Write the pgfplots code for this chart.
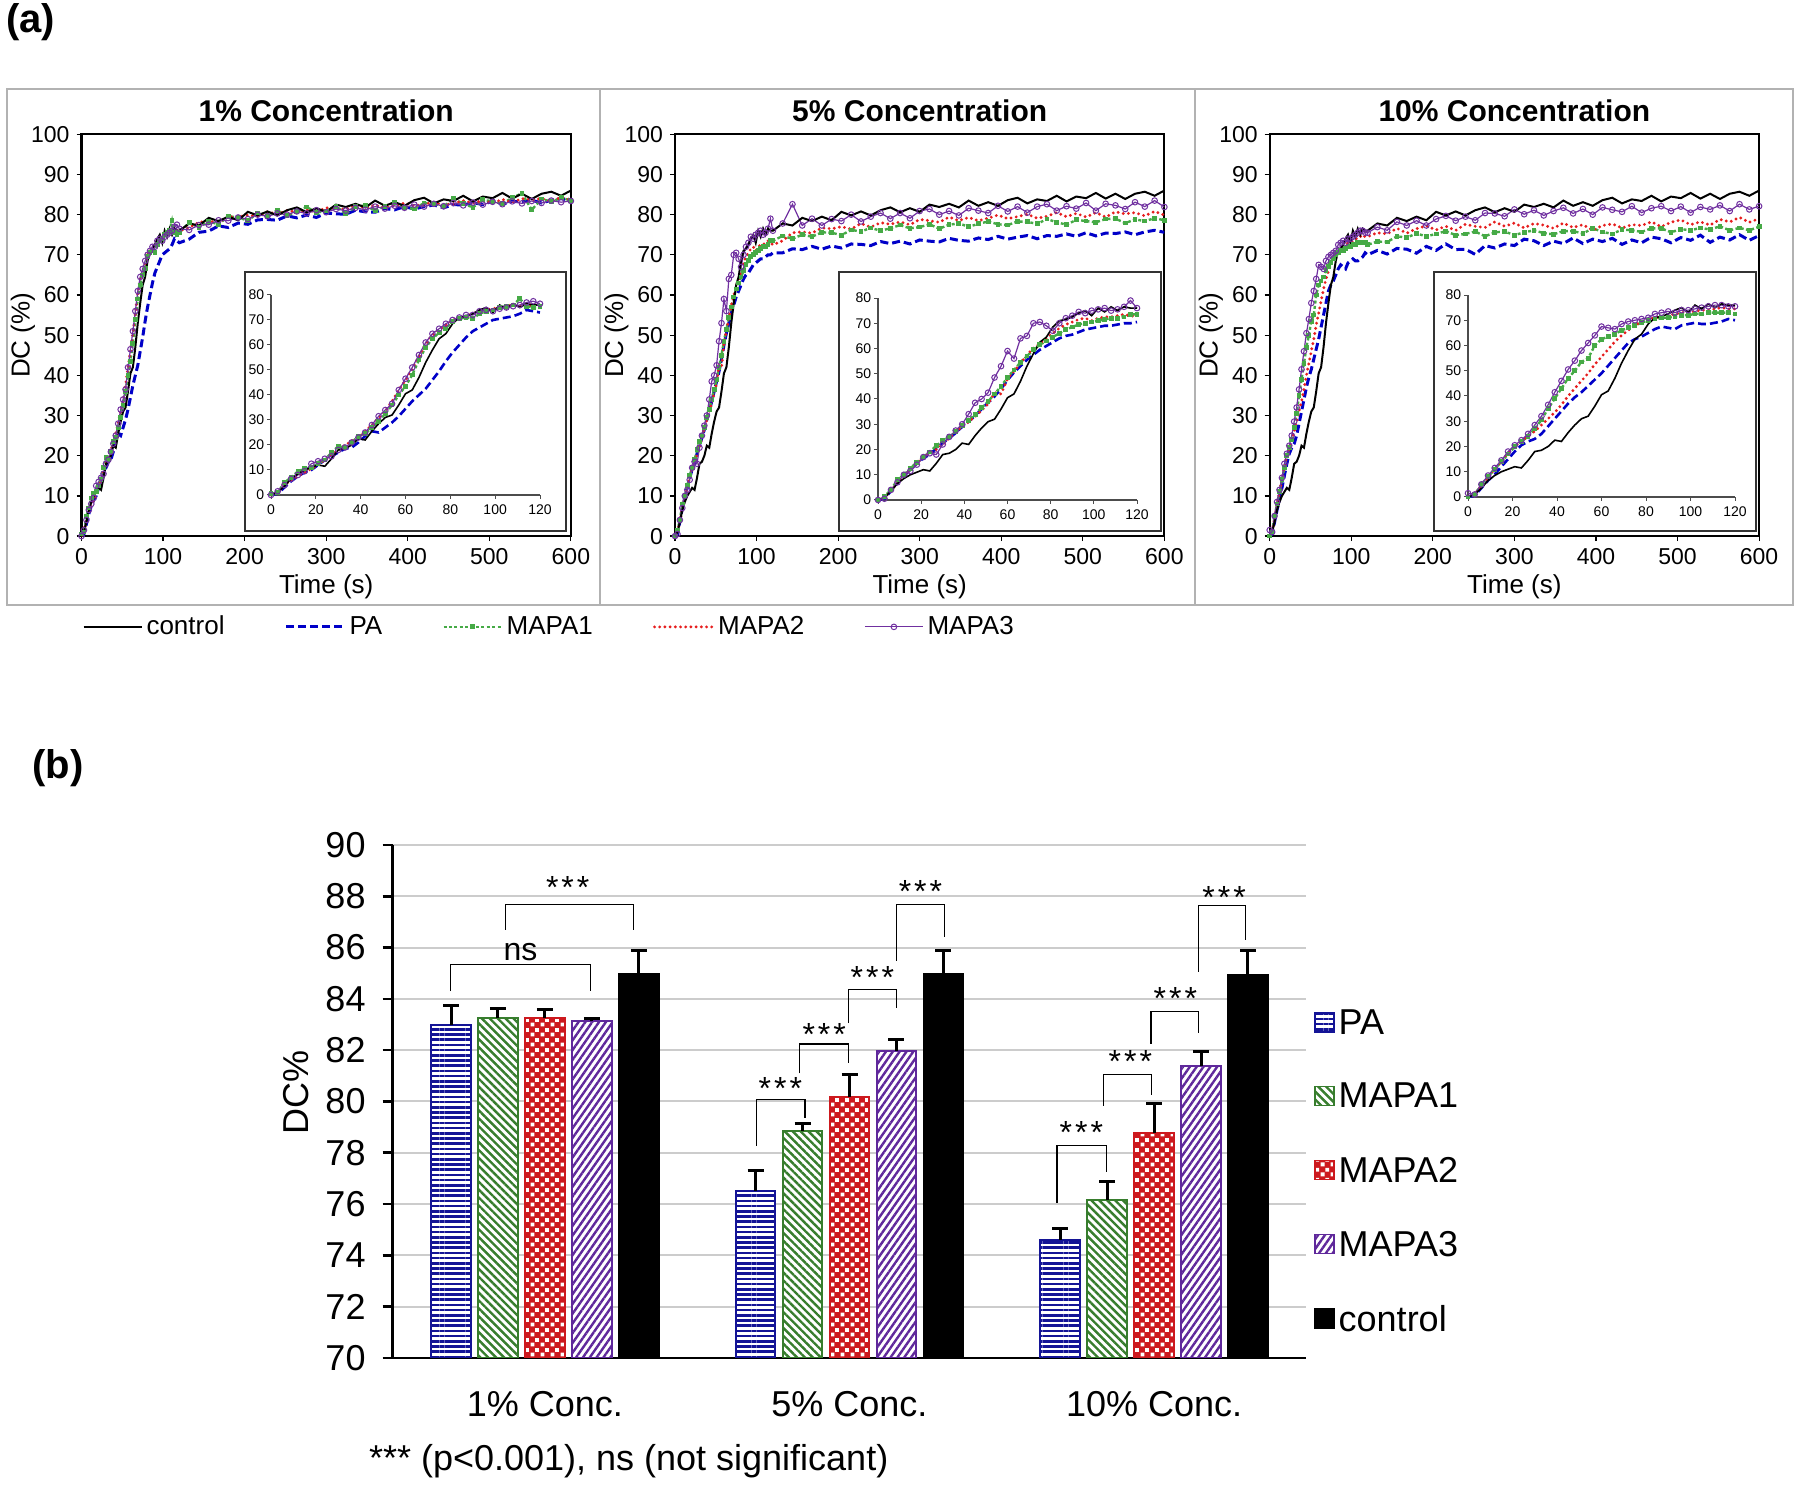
\documentclass[border=0pt]{standalone}
\usepackage{fontspec}
\setmainfont{Liberation Sans}
\usepackage{pgfplots}
\usepackage{pgfplotstable}
\pgfplotsset{compat=1.18}
\usetikzlibrary{patterns,patterns.meta}

\definecolor{cPA}{RGB}{0,0,200}
\definecolor{cM1}{RGB}{70,170,70}
\definecolor{cM2}{RGB}{230,30,30}
\definecolor{cM3}{RGB}{112,48,160}
\definecolor{bPA}{RGB}{20,20,150}
\definecolor{bM1}{RGB}{55,125,45}
\definecolor{bM2}{RGB}{205,25,30}
\definecolor{bM3}{RGB}{95,40,155}

\pgfdeclarepatternformonly{wsq}{\pgfqpoint{0pt}{0pt}}{\pgfqpoint{5pt}{5pt}}{\pgfqpoint{5pt}{5pt}}{%
  \pgfpathrectangle{\pgfqpoint{0.3pt}{0.3pt}}{\pgfqpoint{2.1pt}{2.1pt}}%
  \pgfpathrectangle{\pgfqpoint{2.8pt}{2.8pt}}{\pgfqpoint{2.1pt}{2.1pt}}%
  \pgfusepath{fill}}

\pgfplotstableread{
t c p1 a1 b1 d1 p5 a5 b5 d5 p10 a10 b10 d10
0 0 0 0.5 0 0 0 0 0 0 0 0 0 1.5
3 1 0.5 1 1 1.5 0.5 1.5 1 0.5 0.5 1 1 1
6 3.5 3 5 4 4 3.5 4 3.5 4 3.5 5 4.5 5
9 6.5 5.5 7 6 6.5 7 8 7 7 6.5 8 8 8.5
12 8.5 7.5 9.5 7.5 8 9.5 10 9.5 10 9 11 11 11.5
15 10 9 10.5 9 9.5 12 12.5 12 11.5 12 14 14 14.5
18 11 10 11 10.5 12.5 14.5 15 14.5 14 15 17 17.5 18
21 12 12 12.5 12 13.5 16.5 17 17 17 18 20 20 20.5
24 11.5 14 14 14 14.5 18 19 18.5 18.5 20.5 22 22 22.5
27 14.5 15.5 17 16 15.5 20.5 21.5 20 18 22 24 24 25
30 18 17 19.5 18 18 22.5 23.5 22 22 23 27 26 28.5
33 18.5 18.5 19 20 19 24.5 25 24.5 25 25 30.5 28.5 32
36 20 19 21 21.5 21 26.5 27 27 27.5 28 35 31 36.5
39 22.5 21 23.5 23 23 29 29.5 29 30 31 39 33.5 41.5
42 22 23.5 24.5 25.5 25 31 31.5 31 34 34 43 36.5 46
45 25.5 25.5 27 28 28 33.5 34 33 38.5 37 47 40 50.5
48 28.5 25 29.5 31 31.5 36 36.5 35.5 40 39.5 50 43 54
51 31 27 32.5 33.5 34 38.5 39 38 42.5 41.5 53.5 46 58
54 32 29 36 37.5 36.5 41 42 42.5 48.5 44 55 49 61
57 36 31.5 40 42 42 44 45 42 53 46.5 60 52.5 64
60 40.5 34.5 43.5 46 46.5 47.5 48.5 48 59 49 62.5 55.5 67.5
63 42 37.5 48 50.5 51 50.5 51.5 51 56 52 63.5 58.5 67
66 47 40 54 55.5 56 53 54.5 54 64 55 64.5 61.5 66.5
69 53 42.5 59 60.5 61 55.5 57 57.5 65 58 66 64 68.5
72 58 46 62.5 64 64.5 57.5 59.5 60 70 61 67 66 69.5
75 62.5 49.5 65 66 66.5 59.5 61.5 62 70.5 62.5 68 68 70
78 64.5 53.5 66.5 68 68.5 61 63 64 69 63.5 69 69.5 70.5
81 68.5 57 69.5 70 70 62.5 64.5 66 67 65 70 70.5 71
84 71 60 70.5 71 71 64 66 68 70 66.5 70.5 71 72.5
87 71.5 63 71 71.5 72 65 67.5 69.5 72 67.5 71 71.5 73
90 72.5 65.5 70.5 72.5 72 65.5 68.5 70.5 73 67 71 72 73.5
93 74 67 72.5 73.5 73.5 66.5 69.5 71.5 74.5 66.5 71.5 72.5 73
96 75 68.5 73.5 74 74 67.5 70 72 74 68 72 73 74
99 73 70 74 74.5 73.5 68 70.5 71 75 68.5 72 73 74
102 76 70.5 75 75 74.5 68.5 71 72 75.5 69 72.5 73.5 74.5
105 74.5 71 75.5 75.5 75 69 71.5 72.5 76 68.5 72.5 74 75
108 76.5 71.5 76 76 75.5 69 72 72.5 75 68.5 73 74 75.5
111 75 72.5 78.5 75.5 76 69.5 72 73 75.5 69 73 74.5 76
114 76.5 74 75.5 76 77 70 72.5 73.5 76.5 69.5 73 75 76
117 76 73.5 75 76 77.5 70 73.5 73 79 70.5 73 74.5 75.5
120 76 73 75.5 76 76.5 70.5 73.5 72.5 76 70 72.5 74.5 75.5
}\insetdata

\pgfplotstableread{
t c p1 a1 b1 d1 p5 a5 b5 d5 p10 a10 b10 d10
132 77.8 73.9 78.0 76.8 76.2 70.5 74.7 73.5 77.8 71.1 73.3 75.5 76.9
144 77.3 75.6 76.9 78.1 77.4 71.5 74.0 75.5 82.6 70.2 73.2 75.2 76.1
156 79.2 75.9 78.3 78.3 77.5 71.3 75.0 75.7 77.3 71.6 74.6 76.6 78.2
168 78.4 77.2 77.6 78.2 78.6 72.1 74.5 75.4 79.0 71.4 74.3 75.4 77.3
180 79.5 76.8 79.6 79.4 78.5 71.4 75.6 76.7 77.3 70.4 75.3 76.5 78.5
192 78.6 77.9 79.3 79.4 79.3 72.2 75.5 76.5 78.9 72.1 74.6 77.2 77.3
204 80.7 77.6 78.5 79.9 78.9 71.7 74.9 77.0 78.4 71.1 75.2 76.2 78.9
216 79.8 78.7 80.4 79.6 80.0 72.7 76.2 76.4 80.0 72.7 75.9 77.1 79.7
228 80.8 78.8 79.7 80.7 79.6 72.6 75.8 77.8 78.3 71.3 74.9 76.1 78.5
240 79.8 78.6 81.1 80.1 80.3 72.3 76.7 76.9 79.5 71.4 75.2 77.6 79.5
252 81.1 79.7 79.7 81.0 80.0 73.3 76.0 78.0 80.4 70.1 75.8 77.1 78.6
264 81.8 79.2 80.8 80.7 80.8 72.8 76.6 77.6 79.0 72.3 74.6 76.8 80.4
276 80.6 79.9 81.9 81.2 80.3 73.4 77.4 78.2 80.4 71.7 75.6 78.2 80.3
288 81.6 79.3 80.5 80.7 81.1 72.7 76.6 77.5 79.1 72.7 75.8 77.1 79.6
300 80.7 80.4 80.9 81.7 80.6 73.7 76.9 78.8 80.9 72.3 74.9 77.9 81.3
312 82.5 80.2 82.1 81.6 81.4 73.4 77.6 78.5 81.4 73.9 75.6 76.7 80.1
324 81.9 80.1 80.2 81.3 81.0 73.2 76.5 78.1 80.0 73.5 76.1 77.8 81.1
336 82.7 81.1 82.0 82.3 81.7 74.1 77.5 79.4 80.9 72.3 75.4 77.4 79.8
348 81.8 80.7 82.3 81.7 81.2 73.6 77.8 78.5 79.8 73.4 75.1 76.6 80.9
360 83.5 80.6 81.0 82.3 82.0 73.4 77.0 79.3 81.6 72.8 75.9 77.9 81.7
372 82.2 81.5 82.1 81.8 81.5 74.2 77.7 78.5 81.0 74.2 75.9 76.8 80.3
384 83.1 81.2 83.1 82.2 82.2 73.8 78.3 79.1 80.4 72.8 75.3 77.5 81.4
396 82.2 82.0 81.8 82.9 81.7 74.6 77.6 79.9 82.2 73.9 76.6 76.1 80.0
408 83.6 81.4 81.4 82.2 82.5 73.9 77.4 79.0 80.8 73.3 75.7 77.3 81.8
420 84.2 82.0 82.9 82.6 82.0 74.4 78.3 79.5 82.0 74.1 75.2 77.7 81.2
432 82.8 82.4 82.8 83.1 82.7 74.8 78.2 80.1 80.5 72.6 76.3 76.7 80.7
444 83.8 81.7 82.0 82.3 82.1 74.0 77.7 79.1 82.0 73.7 76.1 77.5 82.1
456 83.4 82.5 84.0 82.8 82.9 74.8 78.9 79.6 82.6 73.0 75.7 77.3 80.5
468 84.7 82.4 82.7 83.5 82.3 74.6 78.1 80.5 81.0 74.4 76.6 78.2 81.6
480 83.3 83.0 81.8 82.9 83.0 75.2 77.5 79.5 82.1 74.0 76.6 77.0 82.1
492 84.5 82.5 83.7 83.5 82.5 74.6 78.7 80.3 81.5 73.0 75.6 78.1 80.9
504 84.1 83.4 83.3 82.9 83.2 75.5 78.4 79.4 82.9 74.3 76.4 78.7 82.0
516 85.4 82.6 82.7 83.8 82.6 74.7 78.1 80.5 81.0 73.6 76.1 77.5 80.5
528 84.0 83.3 84.2 83.0 83.3 75.4 78.9 79.4 82.7 74.9 76.7 78.2 81.9
540 85.2 83.2 85.3 84.0 82.8 75.3 79.0 80.7 82.3 73.1 76.3 77.4 81.3
552 83.9 83.6 81.2 83.7 83.4 75.7 77.9 80.2 81.4 74.4 77.1 78.8 82.3
564 85.2 82.9 83.9 84.0 82.9 75.0 78.8 80.5 83.1 73.7 76.1 78.2 80.9
576 85.7 83.6 83.2 83.3 83.5 75.7 78.4 79.7 82.0 75.0 76.7 79.3 82.6
588 84.7 84.0 84.2 84.3 83.1 76.1 79.1 80.8 83.5 73.6 76.1 78.1 81.3
600 86.0 83.5 83.5 83.7 83.4 75.6 78.6 79.9 81.9 74.8 77.0 79.0 82.1
}\taildata

\pgfplotstablevertcat{\fulldata}{\insetdata}
\pgfplotstablevertcat{\fulldata}{\taildata}

\pgfplotstableread{
x pa epa m1 em1 m2 em2 m3 em3 c ec
0 83.00 0.73 83.27 0.37 83.24 0.34 83.13 0.12 84.96 0.93
1 76.50 0.80 78.84 0.30 80.18 0.87 81.97 0.45 84.96 0.93
2 74.60 0.45 76.15 0.74 78.77 1.16 81.40 0.53 84.95 0.92
}\bdata

\pgfplotsset{
  sPA/.style={color=cPA, line width=1.5pt, dash pattern=on 4pt off 2pt, mark=none},
  sC/.style={color=black, line width=1pt, solid, mark=none},
  sM1/.style={color=cM1, line width=1.2pt, dash pattern=on 1.5pt off 1.2pt, mark=square*, mark size=0.6pt, mark options={solid}},
  sM2/.style={color=cM2, line width=1.6pt, dash pattern=on 0pt off 2.6pt, line cap=round, mark=none},
  sM3/.style={color=cM3, line width=0.6pt, solid, mark=o, mark size=1.4pt, mark options={solid, line width=0.5pt}},
  mainax/.style={scale only axis, anchor=south west, width=244.7pt, height=200.9pt,
    xmin=0, xmax=600, ymin=0, ymax=100, xtick={0,100,...,600}, ytick={0,10,...,100},
    axis line style={line width=1.1pt}, tick align=outside, xtick pos=bottom, ytick pos=left,
    major tick length=2.5pt, tick style={line width=0.6pt, black},
    tick label style={font=\fontsize{11.5}{13}\selectfont},
    /pgf/number format/assume math mode=true,
    xlabel={Time (s)}, ylabel={DC (\%)},
    label style={font=\fontsize{13}{15}\selectfont},
    xlabel style={at={(0.5,-0.126)}, anchor=center},
    ylabel style={at={(-0.12,0.5)}, anchor=center},
    title style={at={(0.5,1.029)}, anchor=center, font=\bfseries\fontsize{15}{17}\selectfont}},
  insetax/.style={scale only axis, anchor=south west,
    xmin=0, xmax=120, ymin=0, ymax=80, xtick={0,20,...,120}, ytick={0,10,...,80},
    axis x line*=bottom, axis y line*=left, axis line style={line width=0.6pt, black!70, -},
    tick align=outside, major tick length=2pt, tick style={black!70, line width=0.5pt},
    tick label style={font=\fontsize{7}{8}\selectfont, inner sep=1.2pt},
    xticklabel style={yshift=-1.5pt},
    /pgf/number format/assume math mode=true, clip=false},
  bst/.style={line width=1pt, error bars/y dir=plus, error bars/y explicit,
    error bars/error bar style={line width=1.5pt, black, solid},
    error bars/error mark options={rotate=90, line width=1.5pt, mark size=4pt, black}},
}

\begin{document}
\begin{tikzpicture}
\useasboundingbox (0,0) rectangle (900pt,743.5pt);
% frames
\draw[gray!60, line width=1pt] (3.5pt,441pt) rectangle (300pt,698.75pt);
\draw[gray!60, line width=1pt] (300pt,441pt) rectangle (597.5pt,698.75pt);
\draw[gray!60, line width=1pt] (597.5pt,441pt) rectangle (896.5pt,698.75pt);
\node[font=\bfseries\fontsize{20}{22}\selectfont] at (15.25pt,732.5pt) {(a)};
\node[font=\bfseries\fontsize{20}{22}\selectfont] at (29pt,359.5pt) {(b)};

% ---------- main 1
\begin{axis}[mainax, at={(40.75pt,475.45pt)}, title={1\% Concentration},
  legend columns=5,
  legend style={at={(-0.011,-0.226)}, anchor=west, draw=none, fill=none,
    font=\fontsize{13}{15}\selectfont,
    /tikz/every even column/.append style={column sep=28pt}},
  legend image code/.code={\draw[mark repeat=2,mark phase=2,#1] plot coordinates {(0pt,0pt) (14.5pt,0pt) (29pt,0pt)};}]
\addlegendimage{sC}
\addlegendimage{sPA}
\addlegendimage{sM1}
\addlegendimage{sM2}
\addlegendimage{sM3}
\addplot[sPA, forget plot] table[x=t,y=p1]{\fulldata};
\addplot[sM1, forget plot] table[x=t,y=a1]{\fulldata};
\addplot[sM2, forget plot] table[x=t,y=b1]{\fulldata};
\addplot[sM3, forget plot] table[x=t,y=d1]{\fulldata};
\addplot[sC, forget plot] table[x=t,y=c]{\fulldata};
\legend{control,PA,MAPA1,MAPA2,MAPA3}
\end{axis}

% ---------- main 2
\begin{axis}[mainax, at={(337.5pt,475.45pt)}, title={5\% Concentration}]
\addplot[sPA] table[x=t,y=p5]{\fulldata};
\addplot[sM1] table[x=t,y=a5]{\fulldata};
\addplot[sM2] table[x=t,y=b5]{\fulldata};
\addplot[sM3] table[x=t,y=d5]{\fulldata};
\addplot[sC] table[x=t,y=c]{\fulldata};
\end{axis}

% ---------- main 3
\begin{axis}[mainax, at={(634.85pt,475.45pt)}, title={10\% Concentration}]
\addplot[sPA] table[x=t,y=p10]{\fulldata};
\addplot[sM1] table[x=t,y=a10]{\fulldata};
\addplot[sM2] table[x=t,y=b10]{\fulldata};
\addplot[sM3] table[x=t,y=d10]{\fulldata};
\addplot[sC] table[x=t,y=c]{\fulldata};
\end{axis}

% inset boxes
\draw[black!80, line width=0.7pt, fill=white] (122.5pt,478pt) rectangle (283pt,607.5pt);
\draw[black!80, line width=0.7pt, fill=white] (419.5pt,478pt) rectangle (580.5pt,607.5pt);
\draw[black!80, line width=0.7pt, fill=white] (717pt,478pt) rectangle (878pt,607.5pt);

\begin{axis}[insetax, at={(135.5pt,496pt)}, width=134.5pt, height=100pt]
\addplot[sPA, line width=1.3pt] table[x=t,y=p1]{\insetdata};
\addplot[sM1] table[x=t,y=a1]{\insetdata};
\addplot[sM2] table[x=t,y=b1]{\insetdata};
\addplot[sM3] table[x=t,y=d1]{\insetdata};
\addplot[sC, line width=0.8pt] table[x=t,y=c]{\insetdata};
\end{axis}
\begin{axis}[insetax, at={(439pt,493.5pt)}, width=129.5pt, height=101pt]
\addplot[sPA, line width=1.3pt] table[x=t,y=p5]{\insetdata};
\addplot[sM1] table[x=t,y=a5]{\insetdata};
\addplot[sM2] table[x=t,y=b5]{\insetdata};
\addplot[sM3] table[x=t,y=d5]{\insetdata};
\addplot[sC, line width=0.8pt] table[x=t,y=c]{\insetdata};
\end{axis}
\begin{axis}[insetax, at={(734pt,495pt)}, width=133.5pt, height=101pt]
\addplot[sPA, line width=1.3pt] table[x=t,y=p10]{\insetdata};
\addplot[sM1] table[x=t,y=a10]{\insetdata};
\addplot[sM2] table[x=t,y=b10]{\insetdata};
\addplot[sM3] table[x=t,y=d10]{\insetdata};
\addplot[sC, line width=0.8pt] table[x=t,y=c]{\insetdata};
\end{axis}

% ---------- panel b
\begin{axis}[at={(196.3pt,64.5pt)}, anchor=south west, scale only axis, width=456.9pt, height=256.5pt,
  xmin=-0.5, xmax=2.5, ymin=70, ymax=90, ytick={70,72,...,90}, xtick={0,1,2},
  xticklabels={1\% Conc.,5\% Conc.,10\% Conc.},
  axis x line*=bottom, axis y line*=left, axis line style={line width=1.3pt, -},
  ymajorgrids, grid style={line width=1pt, black!20},
  tick align=outside, major tick length=5pt, ytick style={line width=1.3pt, black}, xtick style={draw=none},
  tick label style={font=\fontsize{18}{20}\selectfont},
  /pgf/number format/assume math mode=true,
  xticklabel style={yshift=-8pt}, yticklabel style={xshift=-5pt},
  ylabel={DC\%}, ylabel style={at={(-0.106,0.517)}, anchor=center, font=\fontsize{18}{20}\selectfont},
  ybar, bar width=0.13,
  legend cell align=left,
  legend style={at={(1.008,0.688)}, anchor=north west, draw=none, fill=none, inner sep=0pt,
    row sep=19pt, font=\fontsize{18}{20}\selectfont},
  legend image code/.code={\draw[#1, line width=0.8pt] (0pt,-4.2pt) rectangle (9.5pt,5.3pt);}]
\addplot[bst, bar shift=-0.308, draw=bPA, fill=white,
  postaction={pattern={Lines[angle=0,distance=2.6pt,line width=1.3pt]}, pattern color=bPA}]
  table[x=x, y=pa, y error=epa]{\bdata};
\addplot[bst, bar shift=-0.154, draw=bM1, fill=white,
  postaction={pattern={Lines[angle=-45,distance=2.8pt,line width=1.2pt]}, pattern color=bM1}]
  table[x=x, y=m1, y error=em1]{\bdata};
\addplot[bst, bar shift=0, draw=bM2, fill=bM2,
  postaction={pattern=wsq, pattern color=white}]
  table[x=x, y=m2, y error=em2]{\bdata};
\addplot[bst, bar shift=0.154, draw=bM3, fill=white,
  postaction={pattern={Lines[angle=55,distance=2.8pt,line width=1.2pt]}, pattern color=bM3}]
  table[x=x, y=m3, y error=em3]{\bdata};
\addplot[bst, bar shift=0.308, draw=black, fill=black]
  table[x=x, y=c, y error=ec]{\bdata};
\legend{PA,MAPA1,MAPA2,MAPA3,control}
% significance brackets
\begin{scope}[line width=0.6pt, black]
\draw (axis cs:-0.31,84.3) |- (axis cs:0.15,85.34) -- (axis cs:0.15,84.3);
\draw (axis cs:-0.13,86.69) |- (axis cs:0.29,87.67) -- (axis cs:0.29,86.69);
\draw (axis cs:0.695,78.28) |- (axis cs:0.854,80.07) -- (axis cs:0.854,79.37);
\draw (axis cs:0.836,81.1) |- (axis cs:0.997,82.24) -- (axis cs:0.997,81.5);
\draw (axis cs:0.997,83.06) |- (axis cs:1.155,84.37) -- (axis cs:1.155,83.66);
\draw (axis cs:1.154,85.48) |- (axis cs:1.312,87.67) -- (axis cs:1.312,86.42);
\draw (axis cs:1.681,76.06) |- (axis cs:1.843,78.29) -- (axis cs:1.843,77.25);
\draw (axis cs:1.835,79.83) |- (axis cs:1.992,81.05) -- (axis cs:1.992,80.24);
\draw (axis cs:1.99,82.26) |- (axis cs:2.146,83.52) -- (axis cs:2.146,82.68);
\draw (axis cs:2.145,85.05) |- (axis cs:2.30,87.63) -- (axis cs:2.30,86.3);
\end{scope}
\begin{scope}[every node/.style={font=\fontsize{16}{16}\selectfont, yshift=-2pt}]
\node at (axis cs:-0.08,86.0) {ns};
\node at (axis cs:0.075,88.5) {*\hspace{1.5pt}*\hspace{1.5pt}*};
\node at (axis cs:0.773,80.67) {*\hspace{1.5pt}*\hspace{1.5pt}*};
\node at (axis cs:0.917,82.76) {*\hspace{1.5pt}*\hspace{1.5pt}*};
\node at (axis cs:1.075,85.0) {*\hspace{1.5pt}*\hspace{1.5pt}*};
\node at (axis cs:1.233,88.34) {*\hspace{1.5pt}*\hspace{1.5pt}*};
\node at (axis cs:1.761,78.96) {*\hspace{1.5pt}*\hspace{1.5pt}*};
\node at (axis cs:1.922,81.71) {*\hspace{1.5pt}*\hspace{1.5pt}*};
\node at (axis cs:2.07,84.19) {*\hspace{1.5pt}*\hspace{1.5pt}*};
\node at (axis cs:2.23,88.12) {*\hspace{1.5pt}*\hspace{1.5pt}*};
\end{scope}
\end{axis}
\node[anchor=west, font=\fontsize{18}{20}\selectfont] at (181pt,13pt) {*** (p<0.001), ns (not significant)};
\end{tikzpicture}
\end{document}
